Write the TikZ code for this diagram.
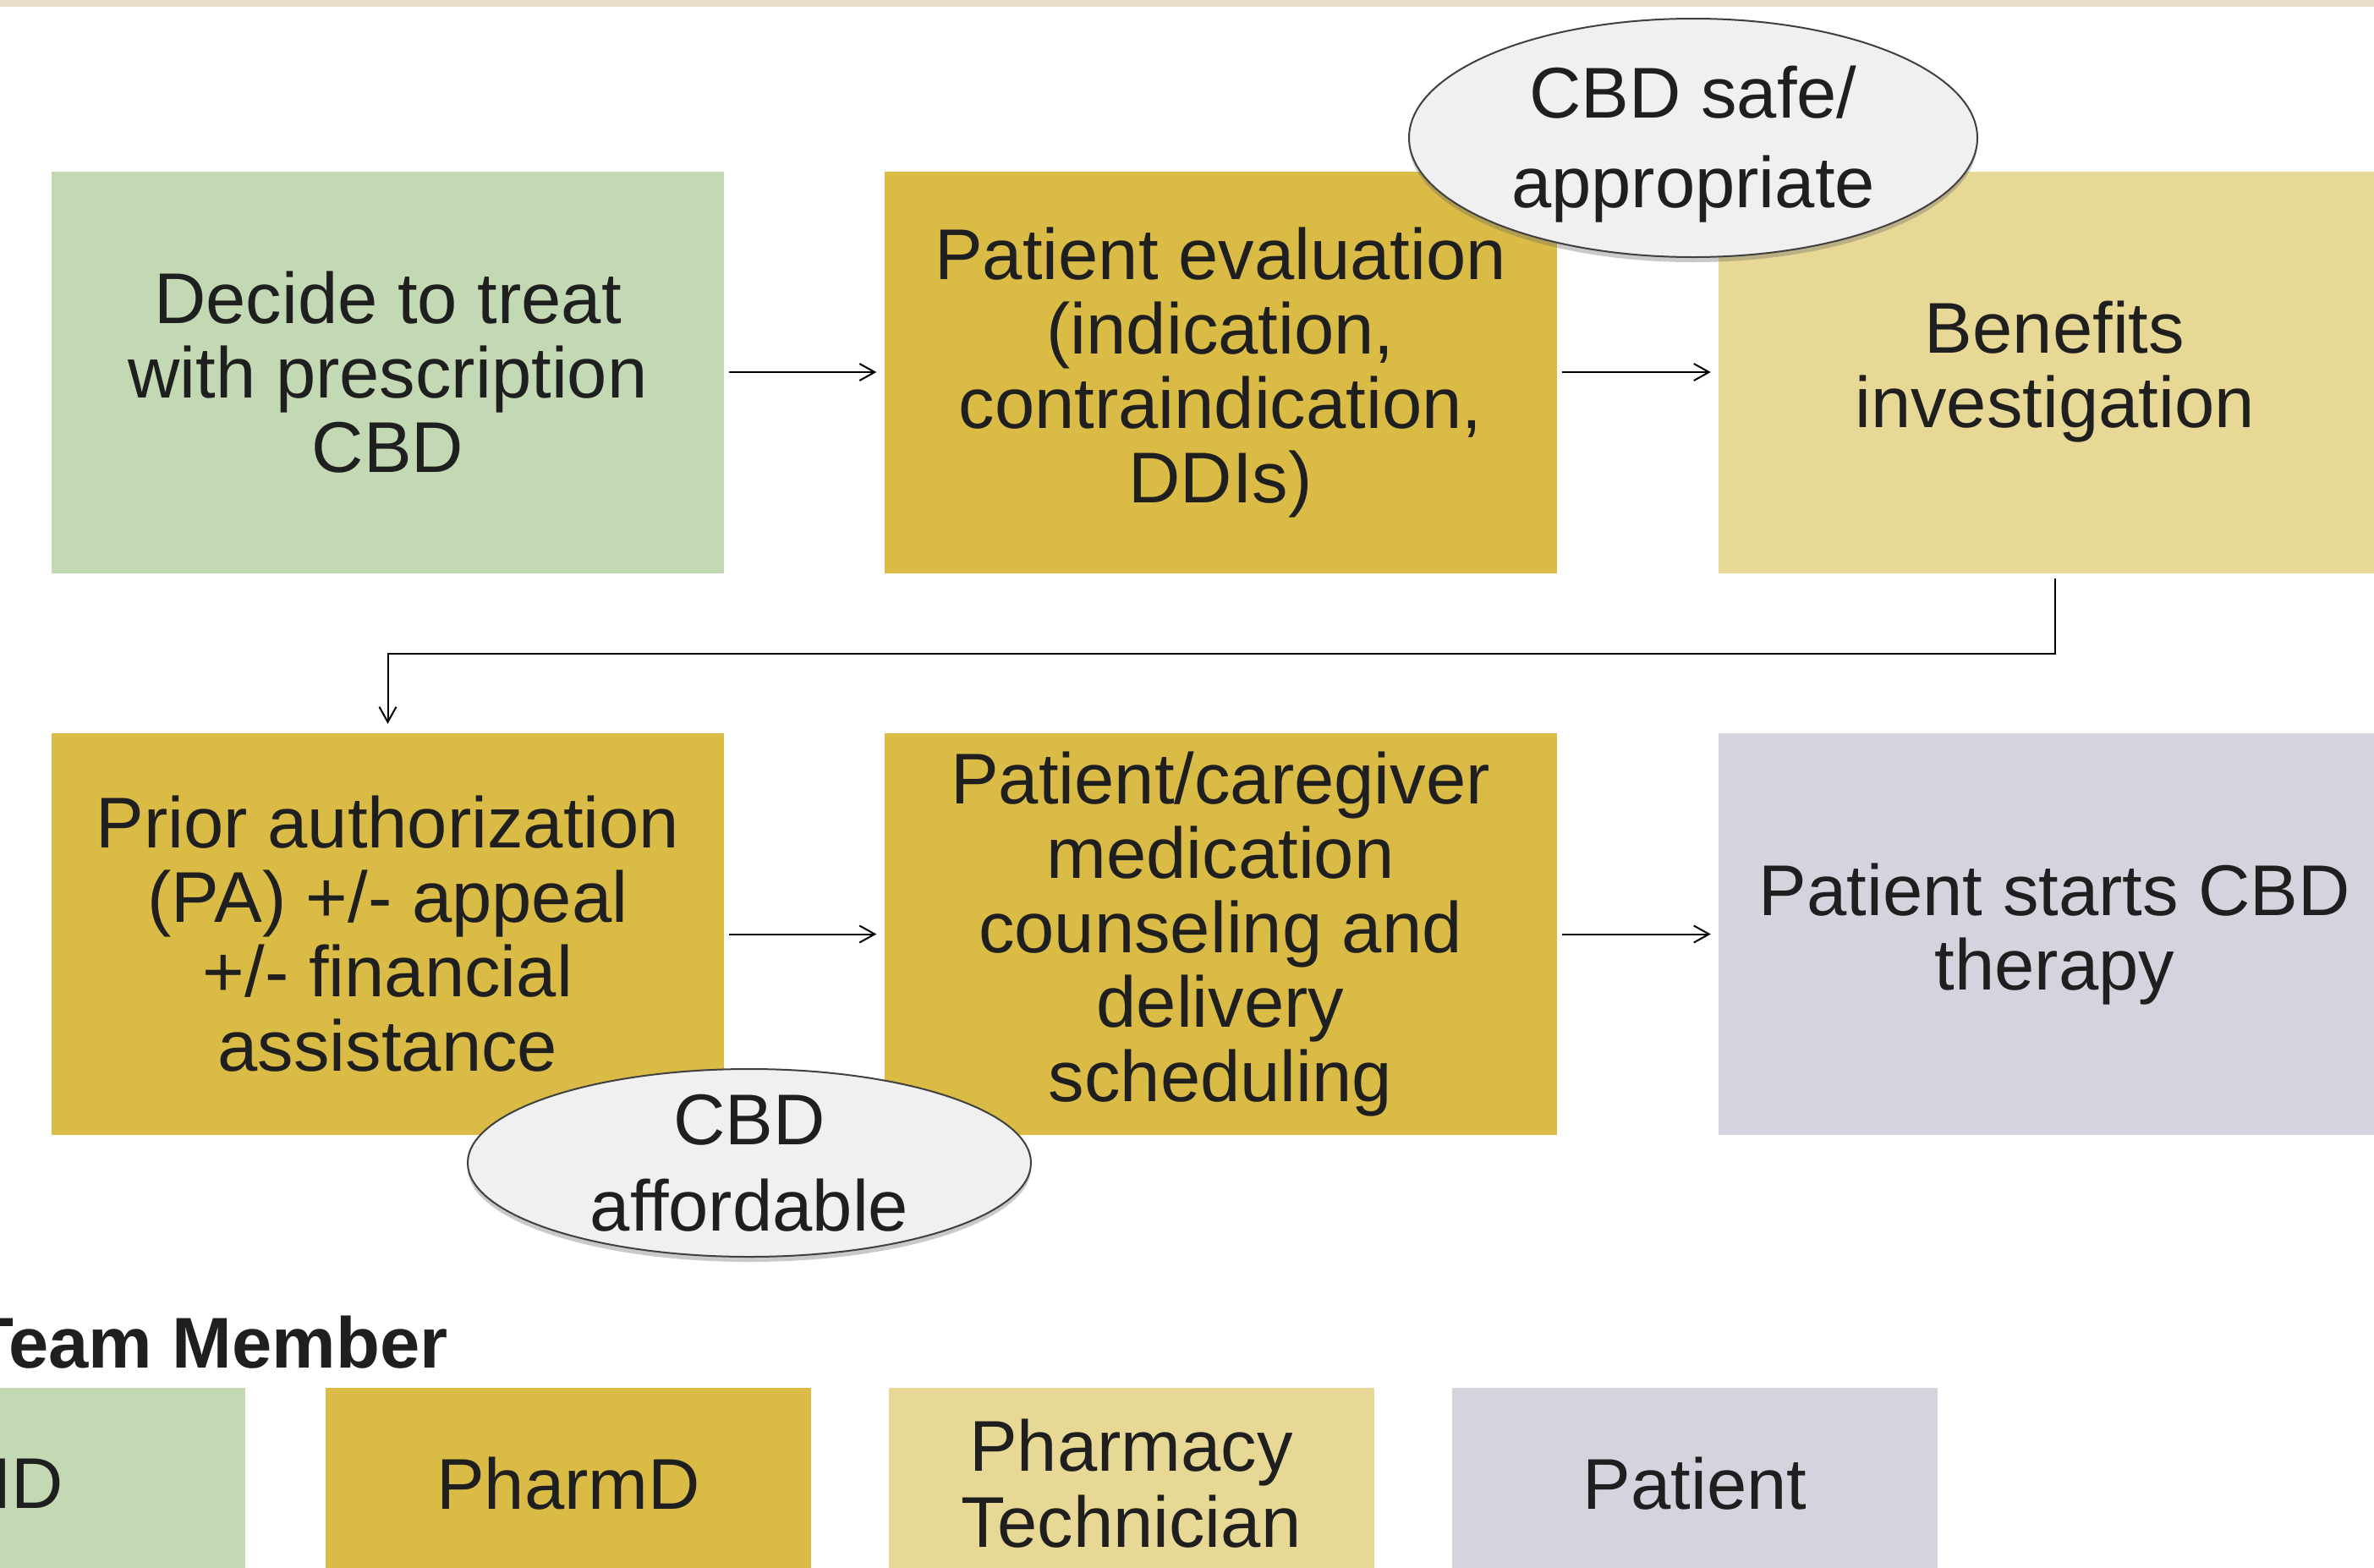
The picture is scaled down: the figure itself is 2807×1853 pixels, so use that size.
\documentclass[tikz,border=0pt]{standalone}
\usepackage{fontspec}
\setmainfont{Liberation Sans}
\usetikzlibrary{arrows.meta,shapes.geometric,shadows}

\definecolor{mdgreen}{RGB}{195,217,179}
\definecolor{pharmgold}{RGB}{217,187,69}
\definecolor{techtan}{RGB}{232,216,149}
\definecolor{patgray}{RGB}{213,211,222}
\definecolor{bandtan}{RGB}{230,222,198}
\definecolor{ink}{RGB}{31,31,31}
\definecolor{bubblefill}{RGB}{240,240,240}
\definecolor{bubbleedge}{RGB}{64,64,64}

\tikzset{
  stepbox/.style={rectangle, inner sep=0pt, minimum width=795pt, minimum height=475pt,
    align=center, text=ink, font=\fontsize{85}{88}\selectfont},
  legendbox/.style={rectangle, inner sep=0pt, minimum width=574pt, minimum height=226pt,
    align=center, text=ink, font=\fontsize{85}{90}\selectfont},
  bubble/.style={ellipse, draw=bubbleedge, line width=2pt, fill=bubblefill, inner sep=0pt,
    drop shadow={shadow xshift=0pt, shadow yshift=-6pt, opacity=0.35, fill=black!60}},
  bubbletext/.style={align=center, text=ink, inner sep=0pt},
  flow/.style={draw=black, line width=2pt, -{Straight Barb[length=18pt,width=20pt]},
    shorten <=6pt, shorten >=9pt},
}

\begin{document}
\begin{tikzpicture}[x=1pt, y=-1pt]
  \clip (0,0) rectangle (2807,1853);
  \fill[white] (0,0) rectangle (2807,1853);
  \fill[bandtan] (0,0) rectangle (2807,8);

  % process steps, first row
  \node[stepbox, fill=mdgreen]   (b1) at (458.5,440) {Decide to treat\\with prescription\\CBD};
  \node[stepbox, fill=pharmgold] (b2) at (1443,440) {Patient evaluation\\(indication,\\contraindication,\\DDIs)};
  \node[stepbox, fill=techtan]   (b3) at (2429.5,440) {Benefits\\investigation};

  % process steps, second row
  \node[stepbox, fill=pharmgold] (b4) at (458.5,1104.5) {Prior authorization\\(PA) +/- appeal\\+/- financial\\assistance};
  \node[stepbox, fill=pharmgold] (b5) at (1443,1104.5) {Patient/caregiver\\medication\\counseling and\\delivery\\scheduling};
  \node[stepbox, fill=patgray]   (b6) at (2429.5,1104.5) {Patient starts CBD\\therapy};

  % connectors
  \draw[flow] (b1) -- (b2);
  \draw[flow] (b2) -- (b3);
  \draw[flow, shorten >=11pt] (b3.south) -- ++(0,95) -| (b4.north);
  \draw[flow] (b4) -- (b5);
  \draw[flow] (b5) -- (b6);

  % decision bubbles
  \node[bubble, minimum width=672pt, minimum height=282pt] (e1) at (2002,163) {};
  \node[bubbletext, font=\fontsize{85}{106}\selectfont] (t1) at ([yshift=-8pt]e1.center) {CBD safe/\\appropriate};
  \node[bubble, minimum width=666pt, minimum height=222pt] (e2) at (886,1375) {};
  \node[bubbletext, font=\fontsize{85}{102}\selectfont] (t2) at (e2.center) {CBD\\affordable};

  % legend
  \node[anchor=base east, text=ink, inner sep=0pt, font=\fontsize{85}{90}\selectfont\bfseries] (lt) at (530,1617) {Team Member};
  \node[legendbox, fill=mdgreen]   (l1) at (3,1754) {};
  \node[text=ink, inner sep=0pt, font=\fontsize{85}{90}\selectfont] (l1t) at (9,1754) {MD};
  \node[legendbox, fill=pharmgold] (l2) at (672,1754) {PharmD};
  \node[legendbox, fill=techtan]   (l3) at (1337.5,1754) {Pharmacy\\Technician};
  \node[legendbox, fill=patgray]   (l4) at (2004,1754) {Patient};
\end{tikzpicture}
\end{document}
